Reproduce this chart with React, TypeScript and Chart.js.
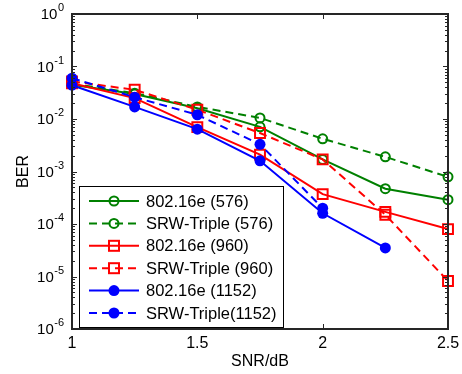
import React, { useEffect, useRef } from "react";
import { Chart, registerables } from "chart.js";

Chart.register(...registerables);

// ---- data ----
const snr = [1, 1.25, 1.5, 1.75, 2, 2.25, 2.5];
const ber802_576 = [0.045, 0.03, 0.016, 0.0071, 0.0017, 0.00047, 0.00029];
const berSRW_576 = [0.047, 0.031, 0.017, 0.0105, 0.0042, 0.0019, 0.00079];
const ber802_960 = [0.048, 0.025, 0.007, 0.0021, 0.00037, 0.00017, 0.00008];
const berSRW_960 = [0.052, 0.036, 0.015, 0.0054, 0.0017, 0.00015, 0.0000082];
const ber802_1152 = [0.044, 0.017, 0.0064, 0.0016, 0.00016, 0.000035];
const berSRW_1152 = [0.06, 0.026, 0.012, 0.0033, 0.0002];
const seriesLabels = [
  "802.16e (576)",
  "SRW-Triple (576)",
  "802.16e (960)",
  "SRW-Triple (960)",
  "802.16e (1152)",
  "SRW-Triple(1152)",
];
const xTicks = [1, 1.5, 2, 2.5];
const yExponents = [0, -1, -2, -3, -4, -5, -6];
const xTitle = "SNR/dB";
const yTitle = "BER";

const GREEN = "#008000";
const RED = "#ff0000";
const BLUE = "#0000ff";
const FONT = "'Liberation Sans', Arial, sans-serif";
const DASH = [8, 5];

type Style = { color: string; dashed: boolean; marker: "circle" | "rect" | "dot" };
const styles: Style[] = [
  { color: GREEN, dashed: false, marker: "circle" },
  { color: GREEN, dashed: true, marker: "circle" },
  { color: RED, dashed: false, marker: "rect" },
  { color: RED, dashed: true, marker: "rect" },
  { color: BLUE, dashed: false, marker: "dot" },
  { color: BLUE, dashed: true, marker: "dot" },
];
const seriesValues = [ber802_576, berSRW_576, ber802_960, berSRW_960, ber802_1152, berSRW_1152];

function drawMarker(ctx: CanvasRenderingContext2D, s: Style, x: number, y: number) {
  ctx.save();
  ctx.setLineDash([]);
  ctx.strokeStyle = s.color;
  ctx.fillStyle = s.color;
  if (s.marker === "circle") {
    ctx.lineWidth = 2;
    ctx.beginPath();
    ctx.arc(x, y, 4.5, 0, Math.PI * 2);
    ctx.stroke();
  } else if (s.marker === "rect") {
    ctx.lineWidth = 2;
    ctx.strokeRect(x - 5, y - 5, 10, 10);
  } else {
    ctx.beginPath();
    ctx.arc(x, y, 5.5, 0, Math.PI * 2);
    ctx.fill();
  }
  ctx.restore();
}

const decorPlugin = {
  id: "decor",
  afterDraw(chart: any) {
    const ctx: CanvasRenderingContext2D = chart.ctx;
    const { left, right, top, bottom } = chart.chartArea;
    const xs = chart.scales.x;
    const ys = chart.scales.y;
    ctx.save();
    // ticks
    ctx.strokeStyle = "#262626";
    ctx.lineWidth = 1;
    ctx.beginPath();
    for (const t of xTicks) {
      const px = Math.round(xs.getPixelForValue(t)) + 0.5;
      ctx.moveTo(px, bottom);
      ctx.lineTo(px, bottom - 5);
      ctx.moveTo(px, top);
      ctx.lineTo(px, top + 5);
    }
    for (const e of yExponents) {
      const py = Math.round(ys.getPixelForValue(Math.pow(10, e))) + 0.5;
      ctx.moveTo(left, py);
      ctx.lineTo(left + 5, py);
      ctx.moveTo(right, py);
      ctx.lineTo(right - 5, py);
      if (e > -6) {
        for (let m = 2; m <= 9; m++) {
          const v = m * Math.pow(10, e - 1);
          const p = Math.round(ys.getPixelForValue(v)) + 0.5;
          ctx.moveTo(left, p);
          ctx.lineTo(left + 3, p);
          ctx.moveTo(right, p);
          ctx.lineTo(right - 3, p);
        }
      }
    }
    ctx.stroke();
    // frame
    ctx.lineWidth = 2;
    ctx.strokeStyle = "#262626";
    ctx.strokeRect(left, top, right - left, bottom - top);

    // tick labels
    ctx.fillStyle = "#000";
    ctx.font = `16px ${FONT}`;
    ctx.textAlign = "center";
    ctx.textBaseline = "top";
    for (const t of xTicks) {
      ctx.fillText(String(t), xs.getPixelForValue(t), bottom + 7);
    }
    for (const e of yExponents) {
      const py = ys.getPixelForValue(Math.pow(10, e));
      const exp = String(e);
      ctx.font = `11px ${FONT}`;
      const we = ctx.measureText(exp).width;
      const xEnd = left - 8;
      ctx.textAlign = "left";
      ctx.textBaseline = "alphabetic";
      ctx.fillText(exp, xEnd - we, py - 3);
      ctx.font = `15px ${FONT}`;
      ctx.textAlign = "right";
      ctx.textBaseline = "middle";
      ctx.fillText("10", xEnd - we - 0.5, py + 1);
    }
    // axis titles
    ctx.font = `16px ${FONT}`;
    ctx.textAlign = "center";
    ctx.textBaseline = "middle";
    ctx.fillText(xTitle, (left + right) / 2, 362);
    ctx.save();
    ctx.translate(24, (top + bottom) / 2);
    ctx.rotate(-Math.PI / 2);
    ctx.fillText(yTitle, 0, 0);
    ctx.restore();

    // legend
    const lx = 79, ly = 186, lw = 204, lh = 141;
    ctx.fillStyle = "#fff";
    ctx.fillRect(lx, ly, lw, lh);
    ctx.strokeStyle = "#000";
    ctx.lineWidth = 1;
    ctx.strokeRect(lx + 0.5, ly + 0.5, lw, lh);
    const rowY0 = 201, rowGap = 22.4;
    for (let i = 0; i < seriesLabels.length; i++) {
      const s = styles[i];
      const y = rowY0 + i * rowGap;
      ctx.strokeStyle = s.color;
      ctx.lineWidth = 2;
      ctx.setLineDash(s.dashed ? DASH : []);
      ctx.beginPath();
      ctx.moveTo(89, y);
      ctx.lineTo(139, y);
      ctx.stroke();
      ctx.setLineDash([]);
      drawMarker(ctx, s, 114, y);
      ctx.fillStyle = "#000";
      ctx.font = `16.5px ${FONT}`;
      ctx.textAlign = "left";
      ctx.textBaseline = "middle";
      ctx.fillText(seriesLabels[i], 146, y + 1);
    }
    ctx.restore();
  },
};

export default function App() {
  const ref = useRef<HTMLCanvasElement>(null);
  useEffect(() => {
    if (!ref.current) return;
    const datasets = seriesValues.map((vals, i) => {
      const s = styles[i];
      return {
        label: seriesLabels[i],
        data: vals.map((v, j) => ({ x: snr[j], y: v })),
        borderColor: s.color,
        borderWidth: 2,
        borderDash: s.dashed ? DASH : [],
        backgroundColor: s.color,
        pointStyle: s.marker === "rect" ? "rect" : "circle",
        pointRadius: s.marker === "rect" ? 7 : s.marker === "circle" ? 4.5 : 5.5,
        pointBorderWidth: s.marker === "dot" ? 0 : 2,
        pointBorderColor: s.color,
        pointBackgroundColor: s.marker === "dot" ? s.color : "rgba(0,0,0,0)",
        tension: 0,
        fill: false,
        clip: false as any,
        order: seriesLabels.length - i,
      };
    });
    const chart = new Chart(ref.current, {
      type: "line",
      data: { datasets },
      options: {
        animation: false,
        responsive: false,
        devicePixelRatio: 1,
        layout: { padding: { left: 72, top: 14, right: 14, bottom: 45 } },
        plugins: { legend: { display: false }, tooltip: { enabled: false } },
        scales: {
          x: { type: "linear", min: 1, max: 2.5, display: false },
          y: { type: "logarithmic", min: 1e-6, max: 1, display: false },
        },
      },
      plugins: [decorPlugin],
    });
    return () => chart.destroy();
  }, []);
  return (
    <div style={{ position: "fixed", left: 0, top: 0, width: 462, height: 374, background: "#fff" }}>
      <canvas ref={ref} width={462} height={374} />
    </div>
  );
}
